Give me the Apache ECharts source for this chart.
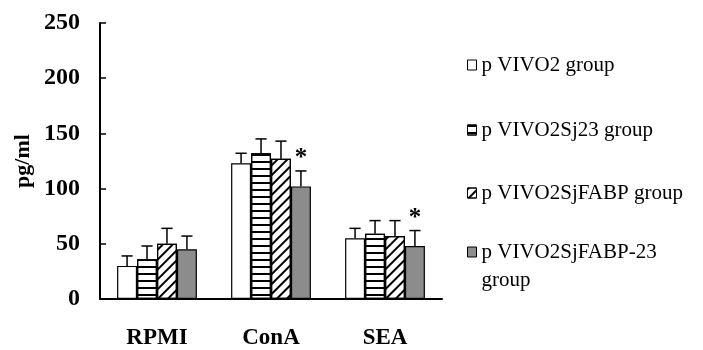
<!DOCTYPE html>
<html>
<head>
<meta charset="utf-8">
<script src="https://cdn.jsdelivr.net/npm/echarts@6/dist/echarts.min.js"></script>
<style>html,body{margin:0;padding:0;background:#fff;}#c{width:703px;height:350px;}</style>
</head>
<body>
<div id="c"></div>
<script>
var categories = ['RPMI', 'ConA', 'SEA'];
var seriesNames = ['p VIVO2 group', 'p VIVO2Sj23 group', 'p VIVO2SjFABP group', 'p VIVO2SjFABP-23 group'];
var valuesA = [30, 123, 55];
var valuesB = [36, 132, 59];
var valuesC = [50, 127, 57];
var valuesD = [45, 102, 48];
var errA = [9, 9, 9];
var errB = [12, 13, 12];
var errC = [14, 16, 14];
var errD = [12, 14, 14];
var starD = [false, true, true];
var yTicks = [0, 50, 100, 150, 200, 250];

var allValues = [valuesA, valuesB, valuesC, valuesD];
var allErr = [errA, errB, errC, errD];
var allStar = [[false,false,false],[false,false,false],[false,false,false], starD];

var serif = "'Liberation Serif', 'Times New Roman', serif";
var styles = [
  { color: '#ffffff', borderColor: '#000', borderWidth: 1.2 },
  { color: '#ffffff', borderColor: '#000', borderWidth: 1.2,
    decal: { symbol: 'rect', symbolSize: 1, color: '#000', dashArrayX: [[1, 0]], dashArrayY: [2, 5], rotation: 0 } },
  { color: '#ffffff', borderColor: '#000', borderWidth: 1.2,
    decal: { symbol: 'rect', symbolSize: 1, color: '#000', dashArrayX: [[1, 0]], dashArrayY: [1.5, 4.5], rotation: -Math.PI / 4 } },
  { color: '#8c8c8c', borderColor: '#000', borderWidth: 1.2 }
];

var series = [];
for (var s = 0; s < 4; s++) {
  series.push({
    name: seriesNames[s], type: 'bar', data: allValues[s],
    barGap: '0%', barCategoryGap: '30%',
    itemStyle: styles[s], emphasis: { disabled: true }, z: 2
  });
}
var errData = [];
for (var s2 = 0; s2 < 4; s2++) {
  for (var c = 0; c < categories.length; c++) {
    errData.push([c, s2, allValues[s2][c], allValues[s2][c] + allErr[s2][c], allStar[s2][c] ? 1 : 0]);
  }
}
series.push({
  type: 'custom', z: 5, silent: true,
  data: errData,
  encode: { x: 0, y: 3 },
  renderItem: function (params, api) {
    var cat = api.value(0), idx = api.value(1);
    var base = api.coord([cat, api.value(2)]);
    var top = api.coord([cat, api.value(3)]);
    var band = api.size([1, 0])[0];
    var bw = band * 0.7 / 4;
    var x = base[0] + (idx - 1.5) * bw;
    var hw = bw * 0.28;
    var children = [
      { type: 'line', shape: { x1: x, y1: base[1], x2: x, y2: top[1] }, style: { stroke: '#000', lineWidth: 1.5 } },
      { type: 'line', shape: { x1: x - hw, y1: top[1], x2: x + hw, y2: top[1] }, style: { stroke: '#000', lineWidth: 1.5 } }
    ];
    if (api.value(4) === 1) {
      children.push({ type: 'text', style: { text: '*', x: x, y: top[1] - 12, align: 'center', verticalAlign: 'middle',
        font: 'bold 25px ' + serif, fill: '#000' } });
    }
    return { type: 'group', children: children };
  }
});

function mkLegend(i, top, extra) {
  var l = {
    data: [seriesNames[i]], left: 467, top: top, orient: 'vertical', padding: 0,
    icon: 'rect', itemWidth: 9, itemHeight: 10, itemGap: 0,
    selectedMode: false,
    itemStyle: { borderColor: '#000', borderWidth: 1 },
    textStyle: { fontFamily: serif, fontSize: 21, color: '#000', lineHeight: 22 }
  };
  if (extra) { for (var k in extra) l[k] = extra[k]; }
  return l;
}

var chart = echarts.init(document.getElementById('c'), null, { renderer: 'canvas' });
chart.setOption({
  backgroundColor: '#fff',
  animation: false,
  grid: { left: 100, right: 261, top: 23, bottom: 47 },
  legend: [
    mkLegend(0, 54),
    mkLegend(1, 119),
    mkLegend(2, 182),
    mkLegend(3, 210, {
      formatter: function (n) { return ' \n' + n.replace(/ (group)$/, '\n$1'); },
      textStyle: { fontFamily: serif, fontSize: 21, color: '#000', lineHeight: 28 }
    })
  ],
  xAxis: {
    type: 'category', data: categories,
    axisLine: { lineStyle: { color: '#000', width: 2 } },
    axisTick: { inside: true, length: 6, lineStyle: { color: '#000', width: 1.5 } },
    axisLabel: { color: '#000', fontFamily: serif, fontWeight: 'bold', fontSize: 23, margin: 28 },
    splitLine: { show: false }
  },
  yAxis: {
    type: 'value', min: yTicks[0], max: yTicks[yTicks.length - 1], interval: 50,
    name: 'pg/ml', nameLocation: 'middle', nameGap: 66, nameRotate: 90,
    nameTextStyle: { color: '#000', fontFamily: serif, fontWeight: 'bold', fontSize: 22 },
    axisLine: { show: true, lineStyle: { color: '#000', width: 2 } },
    axisTick: { show: true, inside: true, length: 6, lineStyle: { color: '#000', width: 1.5 } },
    axisLabel: { color: '#000', fontFamily: serif, fontWeight: 'bold', fontSize: 24, margin: 20 },
    splitLine: { show: false }
  },
  series: series
});
</script>
</body>
</html>
